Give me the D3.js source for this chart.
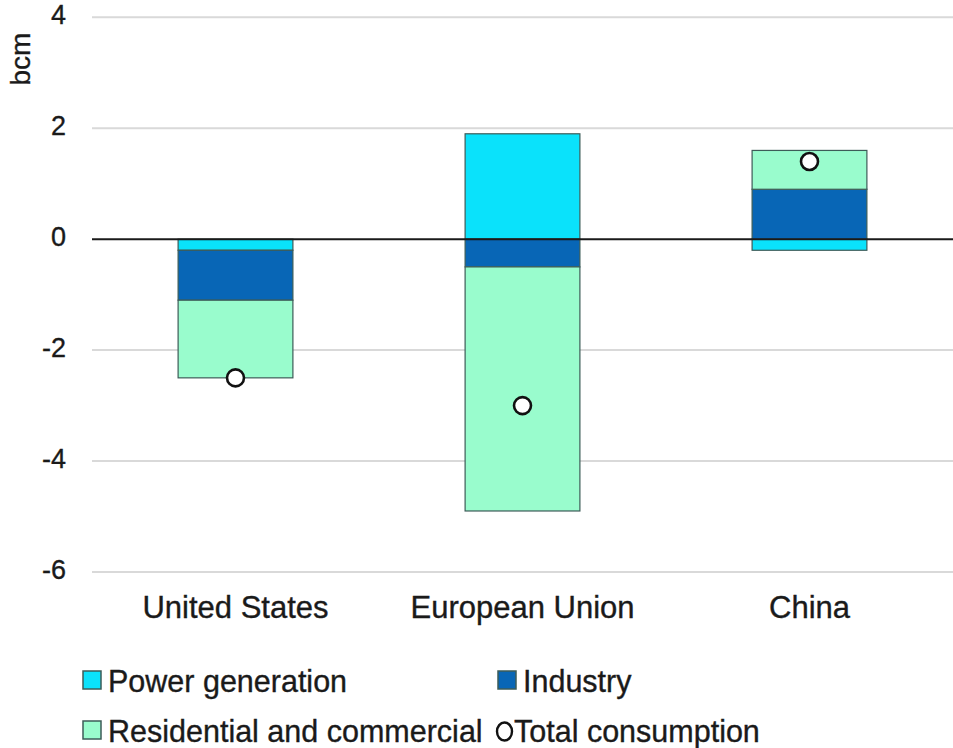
<!DOCTYPE html>
<html>
<head>
<meta charset="utf-8">
<script src="https://cdn.jsdelivr.net/npm/d3@7"></script>
<style>
  html, body { margin: 0; padding: 0; background: #ffffff; }
  svg { display: block; font-family: "Liberation Sans", Arial, sans-serif; }
  text { stroke: #1a1a1a; stroke-width: 0.35px; }
</style>
</head>
<body>
<svg id="chart" width="953" height="748"></svg>
<script>
const categories = ["United States", "European Union", "China"];
const seriesNames = ["Power generation", "Industry", "Residential and commercial"];
const powerGeneration = [-0.2, 1.9, -0.2];
const industry = [-0.9, -0.5, 0.9];
const residential = [-1.4, -4.4, 0.7];
const totalConsumption = [-2.5, -3.0, 1.4];
const yTicks = [4, 2, 0, -2, -4, -6];
const yLabel = "bcm";
const totalName = "Total consumption";

const colors = ["#0ae2fb", "#0866b6", "#99fccd"];

const svg = d3.select("#chart");
const margin = { left: 92, right: 0 };
const W = 953;

const rows = categories.map((c, i) => ({
  cat: c,
  [seriesNames[0]]: powerGeneration[i],
  [seriesNames[1]]: industry[i],
  [seriesNames[2]]: residential[i],
  total: totalConsumption[i]
}));

const x = d3.scaleBand().domain(categories).range([margin.left, W - margin.right]).paddingInner(0.6).paddingOuter(0.3);
const y = d3.scaleLinear().domain([-6, 4]).range([572, 17.3]);

// gridlines
svg.append("g").selectAll("line").data(yTicks.filter(t => t !== 0)).join("line")
  .attr("x1", margin.left).attr("x2", W)
  .attr("y1", d => y(d)).attr("y2", d => y(d))
  .attr("stroke", "#d9d9d9").attr("stroke-width", 2);

// y tick labels
const yAxis = d3.axisLeft(y).tickValues(yTicks).tickSize(0).tickPadding(0).tickFormat(d => String(d));
const ya = svg.append("g").attr("transform", `translate(66,0)`).call(yAxis);
ya.select(".domain").remove();
ya.selectAll("text").attr("font-size", 27).attr("fill", "#1a1a1a")
  .attr("font-family", "'Liberation Sans', Arial, sans-serif").attr("dy", "0.3em")
  .attr("transform", "translate(0,-2)");

// y label
svg.append("text").attr("transform", "translate(30,59) rotate(-90)")
  .attr("text-anchor", "middle").attr("font-size", 28).attr("fill", "#1a1a1a").text(yLabel);

// stacked bars
const stack = d3.stack().keys(seriesNames).offset(d3.stackOffsetDiverging);
const stacked = stack(rows);
svg.append("g").selectAll("g").data(stacked).join("g")
  .attr("fill", (d, i) => colors[i])
  .selectAll("rect").data(d => d).join("rect")
  .attr("x", d => x(d.data.cat))
  .attr("width", x.bandwidth())
  .attr("y", d => y(Math.max(d[0], d[1])))
  .attr("height", d => Math.abs(y(d[0]) - y(d[1])))
  .attr("stroke", "#3d5c58").attr("stroke-width", 1.2);

// zero line
svg.append("line").attr("x1", margin.left).attr("x2", W)
  .attr("y1", y(0)).attr("y2", y(0))
  .attr("stroke", "#1a1a1a").attr("stroke-width", 2);

// total markers
svg.append("g").selectAll("circle").data(rows).join("circle")
  .attr("cx", d => x(d.cat) + x.bandwidth() / 2)
  .attr("cy", d => y(d.total))
  .attr("r", 8.5)
  .attr("fill", "#ffffff").attr("stroke", "#111111").attr("stroke-width", 2.6);

// category labels
svg.append("g").selectAll("text").data(categories).join("text")
  .attr("x", d => x(d) + x.bandwidth() / 2)
  .attr("y", 618)
  .attr("text-anchor", "middle").attr("font-size", 31).attr("fill", "#1a1a1a")
  .text(d => d);

// legend
const legendItems = [
  { name: seriesNames[0], type: "rect", color: colors[0], x: 83, y: 692 },
  { name: seriesNames[1], type: "rect", color: colors[1], x: 498, y: 692 },
  { name: seriesNames[2], type: "rect", color: colors[2], x: 83, y: 742 },
  { name: totalName, type: "circle", color: "#ffffff", x: 496, y: 742 }
];
const lg = svg.append("g").selectAll("g").data(legendItems).join("g")
  .attr("transform", d => `translate(${d.x},${d.y})`);
lg.filter(d => d.type === "rect").append("rect")
  .attr("x", 0).attr("y", -21).attr("width", 18).attr("height", 18)
  .attr("fill", d => d.color).attr("stroke", "#3d5c58").attr("stroke-width", 1.5);
lg.filter(d => d.type === "circle").append("ellipse")
  .attr("cx", 8.5).attr("cy", -10.5).attr("rx", 7.5).attr("ry", 9)
  .attr("fill", "#ffffff").attr("stroke", "#111111").attr("stroke-width", 2.4);
lg.append("text").attr("x", d => d.type === "rect" ? 25 : 18).attr("y", 0)
  .attr("font-size", 30.5).attr("fill", "#1a1a1a").text(d => d.name);
</script>
</body>
</html>
